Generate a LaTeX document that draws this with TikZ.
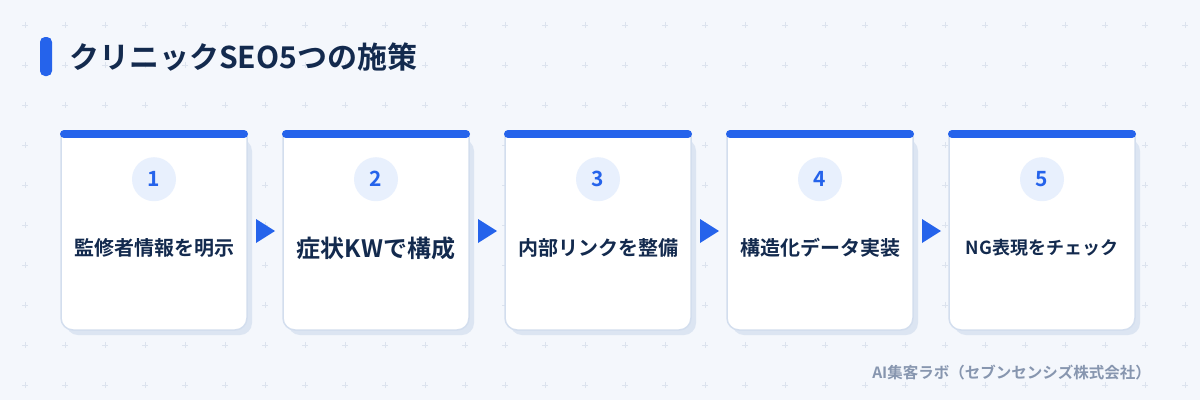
\documentclass[tikz,border=0pt]{standalone}
\usepackage{fontspec}
\setmainfont{Noto Sans CJK JP}[BoldFont={Noto Sans CJK JP Bold}]
\usetikzlibrary{positioning,calc}

\definecolor{pagebg}{HTML}{F4F7FC}
\definecolor{gridplus}{HTML}{DCE3EE}
\definecolor{brandblue}{HTML}{2563EB}
\definecolor{cardline}{HTML}{D3DEEE}
\definecolor{cardshadow}{HTML}{DCE5F2}
\definecolor{numfill}{HTML}{E8F0FD}
\definecolor{inktext}{HTML}{132A4E}
\definecolor{creditgray}{HTML}{8796AF}

\tikzset{
  cardbox/.style={rectangle, minimum width=186pt, minimum height=196pt, inner sep=0pt, outer sep=0pt},
  cardframe/.style={fill=white, draw=cardline, line width=1.5pt},
  topbar/.style={draw=brandblue, line width=8pt, line cap=round},
  numdot/.style={circle, fill=numfill, minimum size=44pt, inner sep=0pt, text=brandblue, font=\fontsize{21pt}{24pt}\selectfont\bfseries},
  steplabel/.style={text=inktext, inner sep=0pt, font=\fontsize{20pt}{24pt}\selectfont\bfseries},
  flowarrow/.style={fill=brandblue},
}

\begin{document}
\begin{tikzpicture}[x=1pt,y=-1pt]
\useasboundingbox (0,0) rectangle (1200,400);
\fill [pagebg] (0,0) rectangle (1200,400);

% dotted grid of small plus marks
\foreach \i in {0,...,29}
  \foreach \j in {0,...,9}
    \draw [gridplus, line width=1pt] (25+40*\i,22+40*\j) -- (25+40*\i,28+40*\j)
                                     (22+40*\i,25+40*\j) -- (28+40*\i,25+40*\j);

% title
\fill [brandblue, rounded corners=5pt] (40,37) rectangle (52,76);
\node [anchor=west, text=inktext, inner sep=0pt, font=\fontsize{30pt}{34pt}\selectfont\bfseries] (title) at (69,57) {クリニックSEO5つの施策};

% cards
\node [cardbox] (card1) at (154,232) {};
\node [cardbox, right=36pt of card1] (card2) {};
\node [cardbox, right=36pt of card2] (card3) {};
\node [cardbox, right=36pt of card3] (card4) {};
\node [cardbox, right=36pt of card4] (card5) {};

\foreach \c in {1,...,5}{
  \fill [cardshadow, rounded corners=12pt] ([xshift=5pt,yshift=-5pt]card\c.north west) rectangle ([xshift=5pt,yshift=-5pt]card\c.south east);
  \path [cardframe] (card\c.north west) [rounded corners=12pt] -- (card\c.south west) -- (card\c.south east) [sharp corners] -- (card\c.north east) -- cycle;
  \draw [topbar] ([xshift=3pt]card\c.north west) -- ([xshift=-3pt]card\c.north east);
}

\node [numdot, below=23pt of card1.north] (num1) {1};
\node [numdot, below=23pt of card2.north] (num2) {2};
\node [numdot, below=23pt of card3.north] (num3) {3};
\node [numdot, below=23pt of card4.north] (num4) {4};
\node [numdot, below=23pt of card5.north] (num5) {5};

\node [steplabel] (label1) at ([yshift=-114pt]card1.north) {監修者情報を明示};
\node [steplabel, font=\fontsize{24pt}{28pt}\selectfont\bfseries] (label2) at ([yshift=-114pt]card2.north) {症状KWで構成};
\node [steplabel] (label3) at ([yshift=-114pt]card3.north) {内部リンクを整備};
\node [steplabel] (label4) at ([yshift=-114pt]card4.north) {構造化データ実装};
\node [steplabel, font=\fontsize{18pt}{22pt}\selectfont\bfseries] (label5) at ([yshift=-114pt]card5.north) {NG表現をチェック};

% arrows between the cards
\fill [flowarrow] ($(card1.east)!0.5!(card2.west)$) +(-9,-13) -- +(10,-1) -- +(-9,11) -- cycle;
\fill [flowarrow] ($(card2.east)!0.5!(card3.west)$) +(-9,-13) -- +(10,-1) -- +(-9,11) -- cycle;
\fill [flowarrow] ($(card3.east)!0.5!(card4.west)$) +(-9,-13) -- +(10,-1) -- +(-9,11) -- cycle;
\fill [flowarrow] ($(card4.east)!0.5!(card5.west)$) +(-9,-13) -- +(10,-1) -- +(-9,11) -- cycle;

% credit
\node [anchor=east, text=creditgray, inner sep=0pt, font=\fontsize{15.5pt}{18pt}\selectfont\bfseries] (credit) at (1151,373) {AI集客ラボ（セブンセンシズ株式会社）};
\end{tikzpicture}
\end{document}
